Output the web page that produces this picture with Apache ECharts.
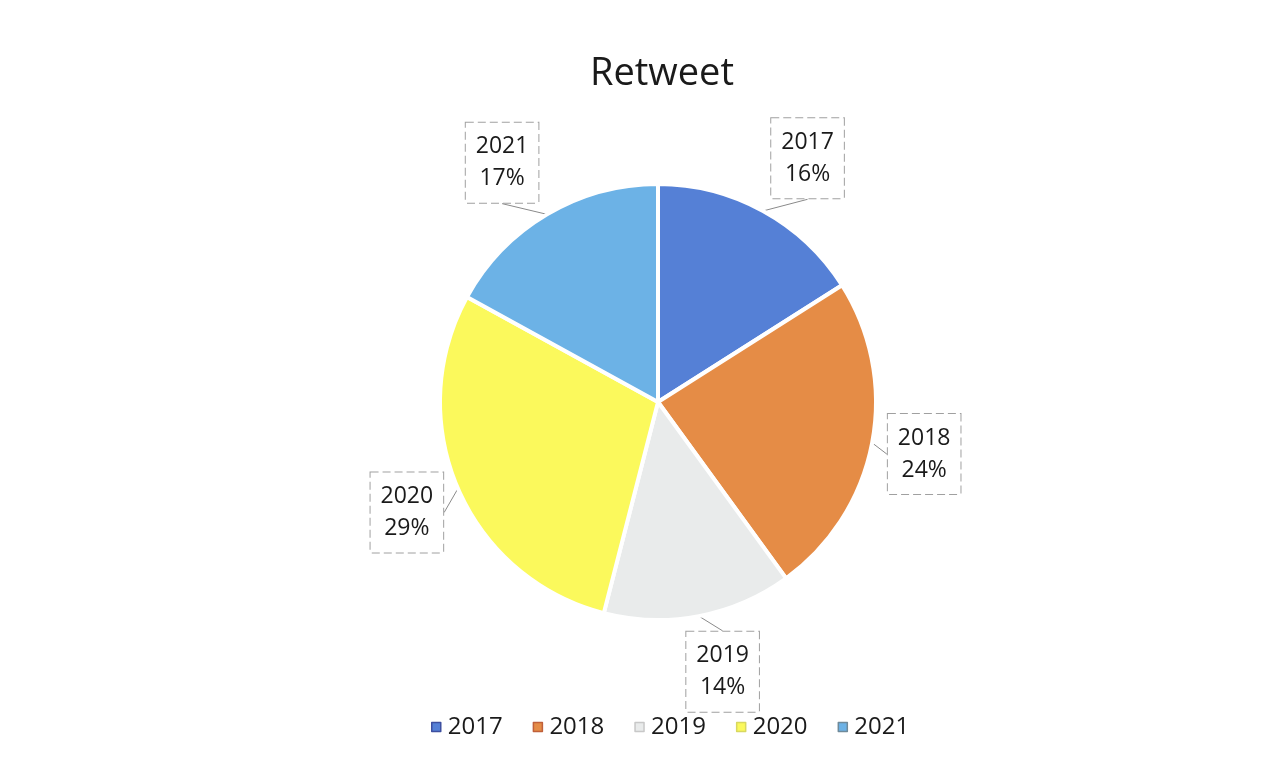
<!DOCTYPE html>
<html>
<head>
<meta charset="utf-8">
<script src="https://cdn.jsdelivr.net/npm/echarts@6/dist/echarts.min.js"></script>
<style>
html,body{margin:0;padding:0;background:#fff;}
#main{width:1274px;height:770px;}
</style>
</head>
<body>
<div id="main"></div>
<script>
var categories = ['2017', '2018', '2019', '2020', '2021'];
var values = [16, 24, 14, 29, 17];
var colors = ['#5580d6', '#e58c46', '#e9ebeb', '#fbf95c', '#6cb2e6'];
var legendColors = ['#3d4fa0', '#c0603a', '#c8c8c8', '#d8d860', '#6f8a9a'];

var chart = echarts.init(document.getElementById('main'));
var total = values.reduce(function(a, b){ return a + b; }, 0);
var cx = 658, cy = 402, R = 218, anchorR = 233;

var data = categories.map(function(c, i){
  return { name: c, value: values[i], itemStyle: { color: colors[i] } };
});

function clamp(v){ return Math.max(-1, Math.min(1, v)); }

chart.setOption({
  animation: false,
  title: {
    text: 'Retweet', left: 657, textAlign: 'center', top: 50,
    textStyle: { fontFamily: 'Open Sans', fontSize: 38, fontWeight: 'normal', color: '#1a1a1a' }
  },
  legend: {
    bottom: 26, left: 426, itemGap: 30, itemWidth: 9, itemHeight: 9, icon: 'rect',
    textStyle: { fontFamily: 'Open Sans', fontSize: 24, color: '#1a1a1a', padding: [0,0,0,2] },
    data: categories.map(function(c, i){
      return { name: c, itemStyle: { color: colors[i], borderColor: legendColors[i], borderWidth: 1.5 } };
    })
  },
  series: [{
    type: 'pie',
    center: [cx, cy],
    radius: R,
    startAngle: 90,
    clockwise: true,
    data: data,
    itemStyle: { borderColor: '#ffffff', borderWidth: 4 },
    label: {
      show: true,
      position: 'outside',
      formatter: function(p){ return p.name + '\n' + Math.round(p.value / total * 100) + '%'; },
      fontFamily: 'Open Sans', fontSize: 23, color: '#1a1a1a', lineHeight: 32,
      align: 'center',
      backgroundColor: '#ffffff',
      borderColor: '#a0a0a0', borderWidth: 1, borderType: 'dashed',
      padding: [8, 10, 8, 10]
    },
    labelLine: { show: true, length: 14, length2: 0, lineStyle: { color: '#8a8a8a', width: 1 } },
    labelLayout: function(params){
      var idx = params.dataIndex;
      var cum = 0;
      for (var k = 0; k < idx; k++) cum += values[k];
      var mid = (cum + values[idx] / 2) / total * 2 * Math.PI;
      var s = Math.sin(mid), c = Math.cos(mid);
      var ax = cx + anchorR * s, ay = cy - anchorR * c;
      var w = params.labelRect.width, h = params.labelRect.height;
      return {
        x: ax + w / 2 * clamp(3 * s),
        y: ay - h / 2 * clamp(1.1 * c),
        align: 'center',
        verticalAlign: 'middle'
      };
    }
  }]
});
</script>
</body>
</html>
